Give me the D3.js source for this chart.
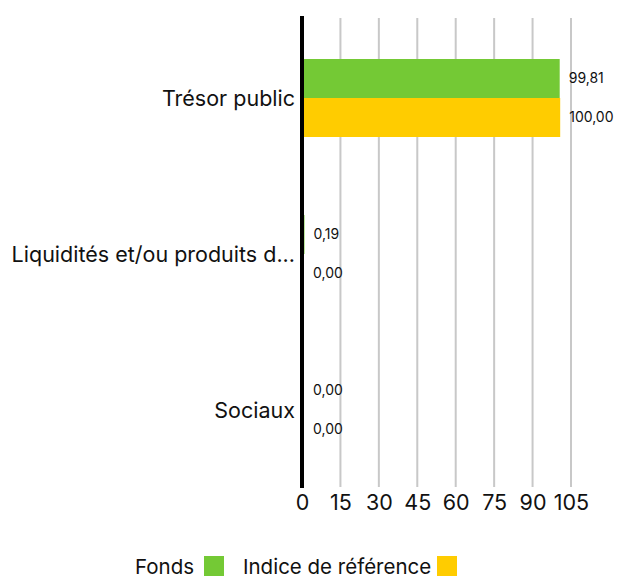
<!DOCTYPE html>
<html>
<head>
<meta charset="utf-8">
<script src="https://cdn.jsdelivr.net/npm/d3@7"></script>
<style>
  body { margin: 0; background: #fff; }
  text { font-family: "Inter", "DejaVu Sans", sans-serif; fill: #111; }
</style>
</head>
<body>
<svg id="chart"></svg>
<script>
// Chart data
const categories = ["Trésor public", "Liquidités et/ou produits d...", "Sociaux"];
const fonds = [99.81, 0.19, 0.00];
const indice = [100.00, 0.00, 0.00];
const tickValues = [0, 15, 30, 45, 60, 75, 90, 105];
const seriesNames = ["Fonds", "Indice de référence"];
const colors = ["#74c935", "#ffcc00"];

const width = 618, height = 578;
const svg = d3.select("#chart").attr("width", width).attr("height", height);

const x = d3.scaleLinear().domain([0, 105]).range([302, 571]);
const y = d3.scaleBand().domain(categories).range([20, 488]).paddingInner(0.5).paddingOuter(0.25);
const sub = d3.scaleBand().domain(seriesNames).range([0, y.bandwidth()]);

const fmt = v => v.toFixed(2).replace(".", ",");

// Vertical grid lines
svg.append("g")
    .selectAll("line")
    .data(tickValues.slice(1))
    .enter()
    .append("line")
    .attr("x1", d => x(d))
    .attr("x2", d => x(d))
    .attr("y1", 18)
    .attr("y2", 487)
    .attr("stroke", "#c8c8c8")
    .attr("stroke-width", 2);

// Bars (start at the right edge of the thick zero line)
const rows = categories.map((c, i) => [
    { cat: c, s: seriesNames[0], v: fonds[i], color: colors[0] },
    { cat: c, s: seriesNames[1], v: indice[i], color: colors[1] }
]).flat();

svg.append("g")
    .selectAll("rect")
    .data(rows)
    .enter()
    .append("rect")
    .attr("x", x(0) + 2)
    .attr("y", d => y(d.cat) + sub(d.s))
    .attr("width", d => x(d.v) - x(0))
    .attr("height", sub.bandwidth())
    .attr("fill", d => d.color);

// Value labels
svg.append("g")
    .selectAll("text")
    .data(rows)
    .enter()
    .append("text")
    .attr("x", d => x(d.v) + 11)
    .attr("y", d => y(d.cat) + sub(d.s) + sub.bandwidth() / 2)
    .attr("dy", "0.3em")
    .attr("font-size", 14)
    .text(d => fmt(d.v));

// Zero axis line
svg.append("line")
    .attr("x1", x(0)).attr("x2", x(0))
    .attr("y1", 16).attr("y2", 488)
    .attr("stroke", "#000")
    .attr("stroke-width", 4);

// Category labels
svg.append("g")
    .selectAll("text")
    .data(categories)
    .enter()
    .append("text")
    .attr("x", 295)
    .attr("y", d => y(d) + y.bandwidth() / 2)
    .attr("dy", "0.35em")
    .attr("text-anchor", "end")
    .attr("font-size", 21.5)
    .text(d => d);

// X axis tick labels
const xAxis = d3.axisBottom(x).tickValues(tickValues).tickSize(0).tickPadding(0);
const gx = svg.append("g").attr("transform", "translate(0,497)").call(xAxis);
gx.select(".domain").remove();
gx.selectAll("text")
    .attr("font-size", 21.5)
    .attr("font-family", null)
    .attr("fill", "#111")
    .attr("dy", "0.6em");

// Legend
const legend = svg.append("g");
const legendItems = [
    { name: seriesNames[0], color: colors[0], tx: 135, rx: 204 },
    { name: seriesNames[1], color: colors[1], tx: 243, rx: 437 }
];
legend.selectAll("text")
    .data(legendItems)
    .enter()
    .append("text")
    .attr("x", d => d.tx)
    .attr("y", 574)
    .attr("font-size", 20.5)
    .text(d => d.name);
legend.selectAll("rect")
    .data(legendItems)
    .enter()
    .append("rect")
    .attr("x", d => d.rx)
    .attr("y", 556)
    .attr("width", 20)
    .attr("height", 20)
    .attr("fill", d => d.color);
</script>
</body>
</html>
